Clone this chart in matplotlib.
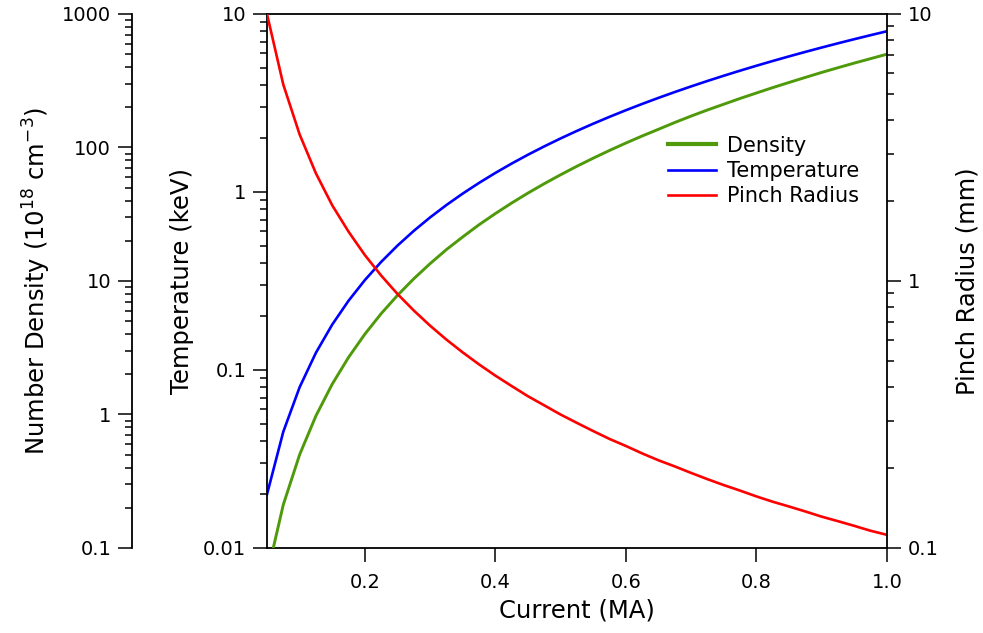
import numpy as np
import matplotlib
matplotlib.use('Agg')
from matplotlib import pyplot as plt

# current (MA), values
current = [0.05, 0.075, 0.1, 0.125, 0.15, 0.175, 0.2, 0.225, 0.25, 0.275,
           0.3, 0.325, 0.35, 0.375, 0.4, 0.425, 0.45, 0.475, 0.5, 0.525,
           0.55, 0.575, 0.6, 0.625, 0.65, 0.675, 0.7, 0.725, 0.75, 0.775,
           0.8, 0.825, 0.85, 0.875, 0.9, 0.925, 0.95, 0.975, 1.0]
temperature = [0.02, 0.045, 0.08, 0.125, 0.18, 0.245, 0.32, 0.405, 0.5, 0.605,
               0.72, 0.845, 0.98, 1.125, 1.28, 1.445, 1.62, 1.805, 2.0, 2.205,
               2.42, 2.645, 2.88, 3.125, 3.38, 3.645, 3.92, 4.205, 4.5, 4.805,
               5.12, 5.445, 5.78, 6.125, 6.48, 6.845, 7.22, 7.605, 8.0]
density = [0.0625, 0.211, 0.5, 0.977, 1.69, 2.68, 4.0, 5.70, 7.81, 10.4,
           13.5, 17.2, 21.4, 26.4, 32.0, 38.4, 45.6, 53.6, 62.5, 72.4,
           83.2, 95.1, 108, 122, 137, 154, 172, 191, 211, 233,
           256, 281, 307, 335, 365, 396, 429, 463, 500]
radius = [10.0, 5.44, 3.54, 2.53, 1.92, 1.53, 1.25, 1.048, 0.894, 0.775,
          0.680, 0.603, 0.540, 0.487, 0.442, 0.404, 0.370, 0.342, 0.316, 0.294,
          0.274, 0.256, 0.241, 0.226, 0.213, 0.202, 0.191, 0.181, 0.172, 0.164,
          0.156, 0.149, 0.143, 0.137, 0.131, 0.126, 0.121, 0.116, 0.112]
xticks = [0.2, 0.4, 0.6, 0.8, 1.0]
xticklabels = ['0.2', '0.4', '0.6', '0.8', '1.0']

plt.rcParams['font.family'] = 'DejaVu Sans'
plt.rcParams['mathtext.default'] = 'regular'

green = '#4f9a0a'
TICK = 14
LAB = 17.5
fig = plt.figure(figsize=(9.83, 6.33), dpi=100)
ax = fig.add_axes([0.2716, 0.1343, 0.6307, 0.8436])

def style(a, side):
    a.set_yscale('log')
    a.yaxis.set_minor_locator(matplotlib.ticker.LogLocator(subs=np.arange(2, 10)))
    a.yaxis.set_minor_formatter(matplotlib.ticker.NullFormatter())
    a.yaxis.set_major_formatter(matplotlib.ticker.FuncFormatter(lambda v, p: '%g' % v))
    a.tick_params(axis='y', which='major', direction='out', length=10, width=1.1,
                  labelsize=TICK, pad=5)
    a.tick_params(axis='y', which='minor', direction='out', length=5, width=1.1)
    a.yaxis.set_ticks_position(side)
    a.yaxis.set_label_position(side)

# temperature axis (main, left)
style(ax, 'left')
ax.set_ylim(0.01, 10)
ax.set_xlim(0.05, 1.0)
ax.set_xticks(xticks)
ax.set_xticklabels(xticklabels)
ax.tick_params(axis='x', direction='out', length=10, width=1.1, labelsize=TICK, pad=8)
for s in ax.spines.values():
    s.set_linewidth(1.3)
ax.spines['right'].set_visible(False)
l2, = ax.plot(current, temperature, color='#0000ff', lw=1.9, label='Temperature')
ax.set_ylabel('Temperature (keV)', fontsize=LAB)
ax.yaxis.set_label_coords(-0.117, 0.5)
ax.set_xlabel('Current (MA)', fontsize=LAB, labelpad=5)

# density axis (far left)
axd = ax.twinx()
style(axd, 'left')
axd.set_ylim(0.1, 1000)
axd.spines['left'].set_position(('axes', -0.2177))
axd.spines['left'].set_visible(True)
axd.spines['left'].set_linewidth(1.3)
for k in ['right', 'top', 'bottom']:
    axd.spines[k].set_visible(False)
l1, = axd.plot(current, density, color=green, lw=2.1, label='Density')
axd.set_ylabel('Number Density (10$^{18}$ cm$^{-3}$)', fontsize=LAB)
axd.yaxis.set_label_coords(-0.345, 0.5)

# pinch radius axis (right)
axr = ax.twinx()
style(axr, 'right')
axr.set_ylim(0.1, 10)
for k in ['left', 'top', 'bottom']:
    axr.spines[k].set_visible(False)
axr.spines['right'].set_linewidth(1.3)
l3, = axr.plot(current, radius, color='#ff0000', lw=1.9, label='Pinch Radius')
axr.set_ylabel('Pinch Radius (mm)', fontsize=LAB)
axr.yaxis.set_label_coords(1.11, 0.5)
axr.set_xlim(0.05, 1.0)

leg = fig.legend(handles=[l1, l2, l3], loc='center left', bbox_to_anchor=(0.6796, 0.7299),
                 frameon=False, fontsize=15, handlelength=2.3, handletextpad=0.55,
                 labelspacing=0.25, borderpad=0, borderaxespad=0)
leg.get_lines()[0].set_linewidth(3)

fig.savefig('out.png', dpi=100)
